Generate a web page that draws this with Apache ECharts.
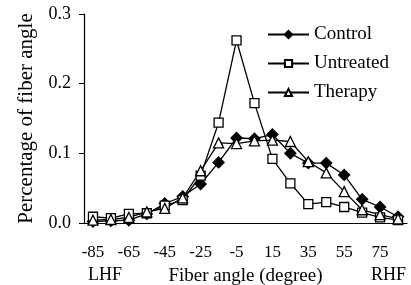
<!DOCTYPE html>
<html>
<head>
	<meta charset="utf-8">
	<title>Fiber angle</title>
	<script src="https://cdn.jsdelivr.net/npm/echarts@6/dist/echarts.min.js"></script>
	<style>
		html, body { margin: 0; padding: 0; background: #fff; }
	</style>
</head>
<body>
<div id="main" style="width: 411px;height:285px;"></div>
<script>
	// fiber angle categories (degree), every 10
	var angles = ['-85', '-75', '-65', '-55', '-45', '-35', '-25', '-15', '-5', '5', '15', '25', '35', '45', '55', '65', '75', '85'];
	var control = [0.002, 0.003, 0.004, 0.013, 0.028, 0.038, 0.056, 0.087, 0.122, 0.121, 0.127, 0.100, 0.086, 0.086, 0.069, 0.034, 0.023, 0.009];
	var untreated = [0.009, 0.007, 0.013, 0.014, 0.025, 0.033, 0.068, 0.144, 0.262, 0.172, 0.092, 0.057, 0.027, 0.030, 0.023, 0.015, 0.008, 0.004];
	var therapy = [0.004, 0.005, 0.008, 0.016, 0.021, 0.036, 0.075, 0.115, 0.114, 0.118, 0.119, 0.117, 0.088, 0.072, 0.045, 0.019, 0.012, 0.006];
	var yTicks = [0, 0.1, 0.2, 0.3];

	var font = 'Liberation Serif';
	var chart = echarts.init(document.getElementById('main'));

	function lineSeries(name, data, symbol, fill, size) {
		return {
			name: name,
			type: 'line',
			data: data,
			symbol: symbol,
			symbolSize: size,
			showAllSymbol: true,
			lineStyle: { color: '#000', width: 1.3 },
			itemStyle: { color: fill, borderColor: '#000', borderWidth: 1.3 },
			emphasis: { disabled: true },
			animation: false,
			z: 2
		};
	}

	var option = {
		animation: false,
		grid: { left: 84, right: 4, top: 14, bottom: 62, containLabel: false, outerBoundsMode: 'none' },
		legend: {
			orient: 'vertical',
			left: 262,
			top: 20,
			itemWidth: 41,
			itemHeight: 9,
			itemGap: 10,
			textStyle: { fontFamily: font, fontSize: 19, color: '#000', lineHeight: 19 },
			data: ['Control', 'Untreated', 'Therapy']
		},
		xAxis: {
			type: 'category',
			data: angles,
			boundaryGap: true,
			name: 'Fiber angle (degree)',
			nameLocation: 'middle',
			nameGap: 44,
			nameTextStyle: { fontFamily: font, fontSize: 19, color: '#000' },
			axisLine: { lineStyle: { color: '#000', width: 1.2 } },
			axisTick: { interval: 0, length: 5, lineStyle: { color: '#000' } },
			axisLabel: { interval: 1, margin: 21, fontFamily: font, fontSize: 17, color: '#000' },
			splitLine: { show: false }
		},
		yAxis: {
			type: 'value',
			min: yTicks[0],
			max: yTicks[yTicks.length - 1],
			interval: 0.1,
			name: 'Percentage of fiber angle',
			nameLocation: 'middle',
			nameGap: 47,
			nameTextStyle: { fontFamily: font, fontSize: 21, color: '#000' },
			axisLine: { show: true, lineStyle: { color: '#000', width: 1.2 } },
			axisTick: { show: true, length: 5, lineStyle: { color: '#000' } },
			axisLabel: {
				margin: 13, fontFamily: font, fontSize: 18, color: '#000',
				formatter: function (v) { return v.toFixed(1); }
			},
			splitLine: { show: false }
		},
		graphic: [
			{ type: 'text', left: 88, top: 266, style: { text: 'LHF', font: '18px "Liberation Serif"', fill: '#000' } },
			{ type: 'text', left: 371, top: 266, style: { text: 'RHF', font: '18px "Liberation Serif"', fill: '#000' } }
		],
		series: [
			lineSeries('Control', control, 'diamond', '#000', 11),
			lineSeries('Untreated', untreated, 'rect', '#fff', 9),
			lineSeries('Therapy', therapy, 'triangle', '#fff', 10)
		]
	};
	chart.setOption(option);
</script>
</body>
</html>
